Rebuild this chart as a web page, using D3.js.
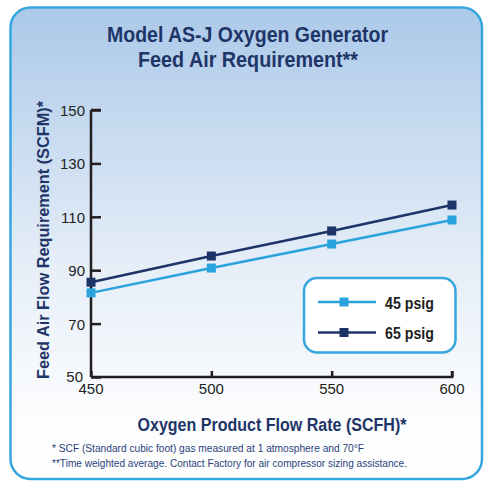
<!DOCTYPE html>
<html><head><meta charset="utf-8">
<script src="https://cdn.jsdelivr.net/npm/d3@7"></script>
<style>body{margin:0;background:#fff}svg{display:block}</style>
</head><body>
<svg id="c" width="484" height="481"></svg>
<script>
const xValues = [450, 500, 550, 600];
const psig45 = [81.5, 90.8, 99.8, 108.8];
const psig65 = [85.5, 95.3, 104.7, 114.4];
const yTicks = [50, 70, 90, 110, 130, 150];
const xTicks = [450, 500, 550, 600];
const seriesNames = ["45 psig", "65 psig"];
const colors = ["#29a3dd", "#1c3468"];

const svg = d3.select("#c");
const defs = svg.append("defs");
const g = defs.append("linearGradient").attr("id","bg").attr("x1",0).attr("y1",0).attr("x2",0).attr("y2",1);
g.append("stop").attr("offset","0%").attr("stop-color","#abc9e9");
g.append("stop").attr("offset","55%").attr("stop-color","#e6eef8");
g.append("stop").attr("offset","85%").attr("stop-color","#fbfcfe");
g.append("stop").attr("offset","100%").attr("stop-color","#ffffff");

svg.append("rect").attr("x",10.5).attr("y",7.5).attr("width",471.5).attr("height",471.5)
  .attr("rx",20).attr("fill","url(#bg)").attr("stroke","#36a6df").attr("stroke-width",2.5);

const navy = "#1f3568";
const font = "'Liberation Sans', Arial, sans-serif";

function txt(x, y, s, size, w, len, anchor, color) {
  const t = svg.append("text").attr("x",x).attr("y",y).text(s)
    .attr("font-family",font).attr("font-size",size).attr("font-weight",w)
    .attr("fill",color).attr("text-anchor",anchor||"middle");
  if (len) t.attr("textLength",len).attr("lengthAdjust","spacingAndGlyphs");
  return t;
}
txt(247.5, 42, "Model AS-J Oxygen Generator", 22, "bold", 281, "middle", navy);
txt(248, 67, "Feed Air Requirement**", 22, "bold", 220, "middle", navy);

const x = d3.scaleLinear().domain([450,600]).range([91,452]);
const y = d3.scaleLinear().domain([50,150]).range([377,110]);

const yAxis = svg.append("g").attr("transform","translate(91,0)")
  .call(d3.axisRight(y).tickValues(yTicks).tickSize(10).tickFormat(""));
const xAxis = svg.append("g").attr("transform","translate(0,377)")
  .call(d3.axisTop(x).tickValues(xTicks).tickSize(6).tickFormat(""));
[yAxis, xAxis].forEach(a => {
  a.select(".domain").attr("stroke","#231f20").attr("stroke-width",2.5);
  a.selectAll(".tick line").attr("stroke","#231f20").attr("stroke-width",2.5);
});
yAxis.select(".domain").attr("d", `M0,${y(150)}H10M0,${y(150)}V${y(50)}`);
xAxis.select(".domain").attr("d", `M${x(450)},0H${x(600)}V-6`);

yTicks.forEach(v => {
  svg.append("text").attr("x",v===50?83:85).attr("y",y(v)+(v===50?5:6)).text(v)
    .attr("font-family",font).attr("font-size",15).attr("fill","#231f20").attr("text-anchor","end");
});
xTicks.forEach(v => {
  svg.append("text").attr("x",x(v)).attr("y",394).text(v)
    .attr("font-family",font).attr("font-size",15).attr("fill","#231f20").attr("text-anchor","middle");
});

svg.append("text").attr("transform","translate(49,240) rotate(-90)").text("Feed Air Flow Requirement (SCFM)*")
  .attr("font-family",font).attr("font-size",17).attr("font-weight","bold").attr("fill",navy)
  .attr("text-anchor","middle").attr("textLength",278).attr("lengthAdjust","spacingAndGlyphs");
txt(272, 431, "Oxygen Product Flow Rate (SCFH)*", 18, "bold", 269, "middle", navy);

txt(52, 452, "* SCF (Standard cubic foot) gas measured at 1 atmosphere and 70°F", 11.5, "normal", 312, "start", "#2a3f7a");
txt(52, 467, "**Time weighted average. Contact Factory for air compressor sizing assistance.", 11.5, "normal", 355, "start", "#2a3f7a");

const line = d3.line().x((d,i)=>x(xValues[i])).y(d=>y(d));
[psig45, psig65].forEach((s,k) => {
  svg.append("path").datum(s).attr("d",line).attr("fill","none").attr("stroke",colors[k]).attr("stroke-width",2.5);
  svg.selectAll(null).data(s).enter().append("rect")
    .attr("x",(d,i)=>x(xValues[i])-4.5).attr("y",d=>y(d)-4.5).attr("width",9).attr("height",9).attr("fill",colors[k]);
});

svg.append("rect").attr("x",304).attr("y",278).attr("width",151.5).attr("height",74.5).attr("rx",13)
  .attr("fill","#fff").attr("stroke","#36a6df").attr("stroke-width",2.5);
const ly = [302, 332.5];
seriesNames.forEach((n,k) => {
  svg.append("line").attr("x1",318).attr("x2",376).attr("y1",ly[k]).attr("y2",ly[k]).attr("stroke",colors[k]).attr("stroke-width",2.5);
  svg.append("rect").attr("x",344-4.5).attr("y",ly[k]-4.5).attr("width",9).attr("height",9).attr("fill",colors[k]);
  svg.append("text").attr("x",385).attr("y",ly[k]+6.5).text(n).attr("font-family",font).attr("font-size",17)
    .attr("font-weight","bold").attr("fill","#231f20").attr("textLength",49).attr("lengthAdjust","spacingAndGlyphs");
});
</script>
</body></html>
